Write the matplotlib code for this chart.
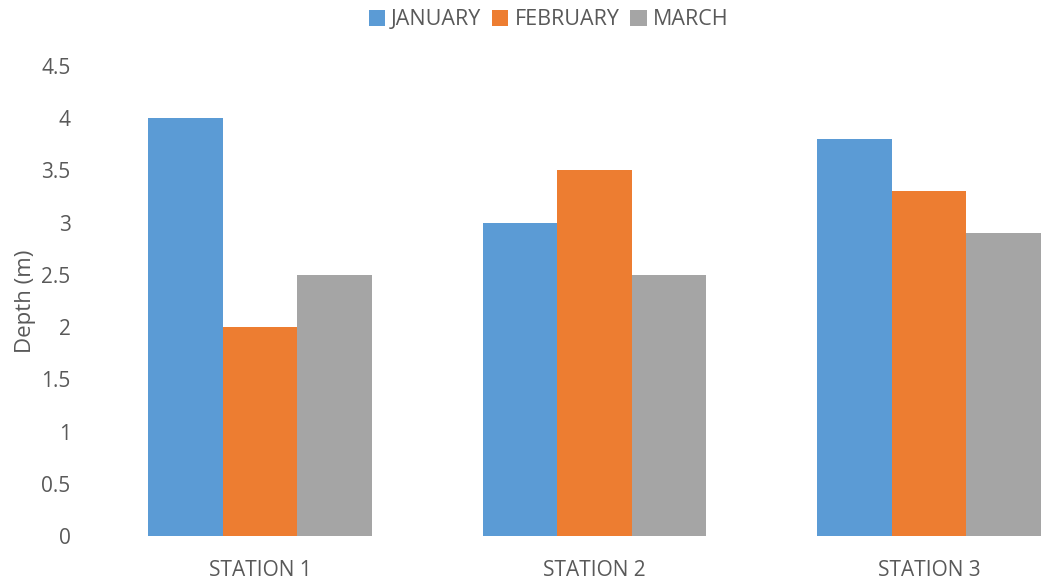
import numpy as np
import matplotlib.pyplot as plt

stations = ['STATION 1', 'STATION 2', 'STATION 3']
months = ['JANUARY', 'FEBRUARY', 'MARCH']
january = [4.0, 3.0, 3.8]
february = [2.0, 3.5, 3.3]
march = [2.5, 2.5, 2.9]

colors = ['#5B9BD5', '#ED7D31', '#A5A5A5']
txt = '#595959'

plt.rcParams['font.family'] = ['Open Sans', 'DejaVu Sans']

fig = plt.figure(figsize=(10.41, 5.85), dpi=100)
ax = fig.add_axes([0.0893, 0.0838, 0.9107, 0.8034])

x = np.arange(len(stations))
w = 0.223
bars = []
for i, (vals, name) in enumerate(zip([january, february, march], months)):
    b = ax.bar(x + (i - 1) * w, vals, w, color=colors[i], label=name)
    bars.append(b)

ax.set_xlim(-0.5, 2.335)
ax.set_ylim(0, 4.5)
ax.set_yticks(np.arange(0, 4.51, 0.5))
ax.set_yticklabels(['0', '0.5', '1', '1.5', '2', '2.5', '3', '3.5', '4', '4.5'])
ax.set_xticks(x)
ax.set_xticklabels(stations)
ax.tick_params(length=0, labelsize=15, colors=txt)
ax.tick_params(axis='y', pad=16)
ax.tick_params(axis='x', pad=17)
for s in ax.spines.values():
    s.set_visible(False)

ax.set_ylabel('Depth (m)', fontsize=16, color=txt, labelpad=4)

fig.legend(handles=bars, labels=months, loc='upper center',
           bbox_to_anchor=(0.527, 1.017), ncol=3, frameon=False,
           fontsize=15.5, labelcolor=txt, handlelength=0.75, handleheight=0.75,
           handletextpad=0.3, columnspacing=0.5)

fig.savefig('out.png', dpi=100)
